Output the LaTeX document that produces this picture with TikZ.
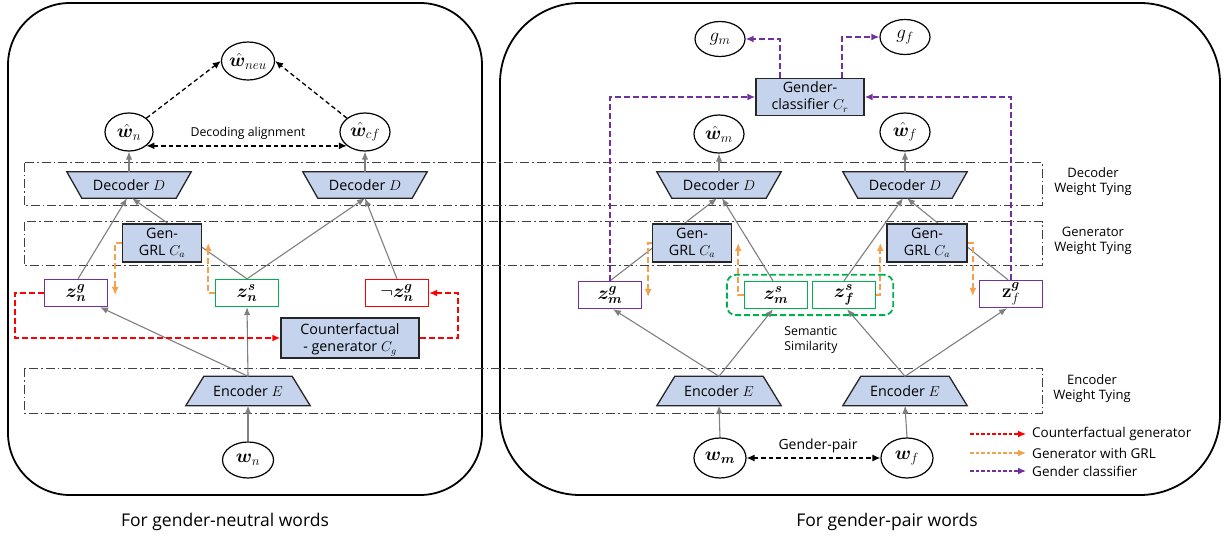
\RequirePackage{fix-cm}
\documentclass[tikz,border=0pt]{standalone}
\usepackage{amsmath}
\usepackage{bm}
\usepackage[no-math]{fontspec}
\setmainfont{Open Sans}
\usetikzlibrary{arrows.meta,shapes.geometric,fit}
\pgfdeclarelayer{background}
\pgfdeclarelayer{conn}
\pgfsetlayers{background,conn,main}
\definecolor{boxblue}{HTML}{C5D3EC}
\definecolor{arrgray}{HTML}{7F7F7F}
\definecolor{cpurple}{HTML}{7030A0}
\definecolor{corange}{HTML}{F4A04C}
\definecolor{cred}{HTML}{FF0000}
\definecolor{cgreen}{HTML}{00B050}
\definecolor{tieframe}{HTML}{404040}
\newcommand\nodefont{\fontsize{14.3}{17}\selectfont}
\newcommand\labfont{\fontsize{12.3}{15}\selectfont}
\newcommand\tiefont{\fontsize{13}{15}\selectfont}
\newcommand\legfont{\fontsize{13.5}{15}\selectfont}
\newcommand\capfont{\fontsize{17.5}{20}\selectfont}
\newcommand\mathfont{\fontsize{19}{21}\selectfont}
\tikzset{
  panel/.style={draw=black, line width=1.8pt},
  tiebox/.style={draw=tieframe, line width=1pt, dash pattern=on 9pt off 3pt on 1.5pt off 3pt},
  bluebox/.style={draw=black!85, line width=1.4pt, fill=boxblue, align=center, font=\nodefont, inner sep=0pt},
  trapnode/.style={inner sep=0pt, font=\nodefont},
  trapfill/.style={draw=black!85, line width=1.3pt, fill=boxblue},
  zbox/.style={draw, line width=1.3pt, fill=white, minimum width=63pt, minimum height=27pt, inner sep=0pt, font=\mathfont},
  wnode/.style={ellipse, draw=black, line width=1.2pt, fill=white, minimum width=50pt, minimum height=38pt, inner sep=0pt, font=\mathfont},
  garrow/.style={draw=arrgray, line width=1.1pt, -{Latex[length=8pt,width=6.5pt]}},
  blkdash/.style={draw=black, line width=1.3pt, dash pattern=on 4.5pt off 3pt},
  redarrow/.style={draw=cred, line width=1.8pt, dash pattern=on 6pt off 3pt, -{Latex[length=8pt,width=7pt]}},
  orarrow/.style={draw=corange, line width=1.8pt, dash pattern=on 6pt off 3pt, -{Latex[length=8pt,width=7pt]}},
  purarrow/.style={draw=cpurple, line width=1.8pt, dash pattern=on 6pt off 3pt, -{Latex[length=8pt,width=7pt]}},
  lab/.style={font=\labfont, align=center, inner sep=0pt},
}
\begin{document}
\begin{tikzpicture}[x=1pt,y=-1pt]
\useasboundingbox (0,0) rectangle (1227,540);
% ---------- panels and weight-tying frames ----------
\begin{pgfonlayer}{background}
\draw[panel, rounded corners=62pt] (8,3) rectangle (482,495);
\draw[panel, rounded corners=80pt] (500,3) rectangle (1220,495);
\draw[tiebox] (24,163) rectangle (1042,206);
\draw[tiebox] (24,222) rectangle (1042,266);
\draw[tiebox] (24,368) rectangle (1042,413);
\end{pgfonlayer}
\node[lab, font=\tiefont] (tdec) at (1093,182) {Decoder\\Weight Tying};
\node[lab, font=\tiefont] (tgen) at (1093,241) {Generator\\Weight Tying};
\node[lab, font=\tiefont] (tenc) at (1092,389) {Encoder\\Weight Tying};
% ---------- left panel ----------
\node[wnode] (wneu) at (248,61) {$\hat{\bm w}_{neu}$};
\node[wnode, minimum width=48pt] (whn) at (129,132) {$\hat{\bm w}_n$};
\node[wnode] (whcf) at (365,132) {$\hat{\bm w}_{cf}$};
\node[lab] (dalign) at (248,133) {Decoding alignment};
\node[trapnode, minimum width=94pt, minimum height=26pt] (decL) at (129,185) {Decoder $D$};
\node[trapnode, minimum width=94pt, minimum height=26pt] (decR) at (365,185) {Decoder $D$};
\node[bluebox, minimum width=79pt, minimum height=38pt] (grlL) at (162,243) {Gen-\\GRL $C_a$};
\node[zbox, draw=cpurple] (zng) at (76,293) {$\boldsymbol{z_n^g}$};
\node[zbox, draw=cgreen] (zns) at (247,293) {$\boldsymbol{z_n^s}$};
\node[zbox, draw=cred] (nzng) at (397,293) {$\neg\boldsymbol{z_n^g}$};
\node[bluebox, minimum width=138pt, minimum height=40pt, text depth=0pt] (cg) at (350,338) {Counterfactual\\- generator $C_g$};
\node[trapnode, minimum width=88pt, minimum height=29pt] (encL) at (248,391) {Encoder $E$};
\node[wnode, minimum width=51pt, minimum height=36pt] (wn) at (248,460) {$\bm w_n$};
% ---------- right panel ----------
\node[wnode, minimum height=35pt] (gm) at (720,39) {$g_m$};
\node[wnode, minimum height=35pt] (gf) at (905,37) {$g_f$};
\node[bluebox, minimum width=108pt, minimum height=37pt] (cr) at (810,97) {Gender-\\classifier $C_r$};
\node[wnode] (whm) at (719,134) {$\hat{\bm w}_m$};
\node[wnode] (whf) at (905,132) {$\hat{\bm w}_f$};
\node[trapnode, minimum width=94pt, minimum height=26pt] (decM) at (719,185) {Decoder $D$};
\node[trapnode, minimum width=94pt, minimum height=26pt] (decF) at (905,185) {Decoder $D$};
\node[bluebox, minimum width=79pt, minimum height=38pt] (grlM) at (692,243) {Gen-\\GRL $C_a$};
\node[bluebox, minimum width=80pt, minimum height=38pt] (grlF) at (927,243) {Gen-\\GRL $C_a$};
\node[zbox, draw=cpurple] (zmg) at (610,295) {$\boldsymbol{z_m^g}$};
\node[zbox, draw=cgreen] (zms) at (776,295) {$\boldsymbol{z_m^s}$};
\node[zbox, draw=cgreen] (zfs) at (844,295) {$\boldsymbol{z_f^s}$};
\node[zbox, draw=cpurple] (zfg) at (1011,294) {$\mathbf{z}_f^{\bm g}$};
\node[fit=(zms)(zfs), inner xsep=17pt, inner ysep=6pt, draw=cgreen, line width=1.8pt, dash pattern=on 6pt off 3pt, rounded corners=9pt] (sem) {};
\node[lab, align=left] (semlab) at (811,340) {Semantic\\Similarity};
\node[trapnode, minimum width=88pt, minimum height=29pt] (encM) at (719,391) {Encoder $E$};
\node[trapnode, minimum width=88pt, minimum height=29pt] (encF) at (905,391) {Encoder $E$};
\node[wnode, minimum width=52pt, minimum height=40pt] (wm) at (720,458) {$\bm{w_m}$};
\node[wnode, minimum width=52pt, minimum height=40pt] (wf) at (907,458) {$\bm w_f$};
\node[lab, font=\fontsize{14}{16}\selectfont] (gpair) at (818,446) {Gender-pair};
% ---------- trapezoids ----------
\begin{pgfonlayer}{background}
\foreach \n in {decL,decR,decM,decF}
  \draw[trapfill] ([xshift=-15pt]\n.north west) -- ([xshift=15pt]\n.north east) -- (\n.south east) -- (\n.south west) -- cycle;
\foreach \n in {encL,encM,encF}
  \draw[trapfill] (\n.north west) -- (\n.north east) -- ([xshift=18pt]\n.south east) -- ([xshift=-18pt]\n.south west) -- cycle;
\end{pgfonlayer}
% ---------- connectors ----------
\begin{pgfonlayer}{conn}
% left
\draw[blkdash, -{Latex[length=8pt,width=7pt]}] (whn.north east) -- (wneu.west);
\draw[blkdash, -{Latex[length=8pt,width=7pt]}] (whcf.north west) -- (wneu.east);
\draw[blkdash, {Latex[length=8pt,width=7pt]}-{Latex[length=8pt,width=7pt]}] (whn.south east) -- (whcf.south west);
\draw[garrow] (decL.north) -- (whn.south);
\draw[garrow] (decR.north) -- (whcf.south);
\draw[garrow] (wn.north) -- (encL.south);
\draw[garrow] (encL.north) -- (zns.south);
\draw[garrow] (encL.north) -- ([xshift=24pt]zng.south);
\draw[garrow] ([xshift=2pt]zng.north) -- ([xshift=-2pt]decL.south);
\draw[garrow] (zns.north) -- ([xshift=3pt]decL.south);
\draw[garrow] (zns.north) -- (decR.south);
\draw[garrow] (nzng.north) -- (decR.south);
\draw[orarrow] (grlL.west) -| ([xshift=7pt,yshift=-2pt]zng.east);
\draw[orarrow] (zns.west) -| ([xshift=6pt]grlL.east);
\draw[redarrow] (zng.west) -- ++(-29,0) |- (cg.west);
\draw[redarrow] (cg.east) -- ++(38,0) |- (nzng.east);
% right
\draw[garrow] (wm.north) -- (encM.south);
\draw[garrow] (wf.north) -- (encF.south);
\draw[garrow] (encM.north) -- ([xshift=3pt]zmg.south);
\draw[garrow] (encM.north) -- ([xshift=-3pt]zms.south);
\draw[garrow] (encF.north) -- ([xshift=3pt]zfs.south);
\draw[garrow] (encF.north) -- ([xshift=-4pt]zfg.south);
\draw[garrow] (zmg.north) -- ([xshift=-2pt]decM.south);
\draw[garrow] ([xshift=-3pt]zms.north) -- ([xshift=3pt]decM.south);
\draw[garrow] (zfs.north) -- ([xshift=-2pt]decF.south);
\draw[garrow] ([xshift=-3pt]zfg.north) -- ([xshift=2pt]decF.south);
\draw[garrow] (decM.north) -- (whm.south);
\draw[garrow] (decF.north) -- (whf.south);
\draw[purarrow] ([xshift=-30pt]cr.north) |- (gm.east);
\draw[purarrow] ([xshift=32pt]cr.north) |- (gf.west);
\draw[purarrow] (zmg.north) |- (cr.west);
\draw[purarrow] (zfg.north) |- (cr.east);
\draw[orarrow] (grlM.west) -| ([xshift=6pt,yshift=-2pt]zmg.east);
\draw[orarrow] (zms.west) -| ([xshift=6pt]grlM.east);
\draw[orarrow] (zfs.east) -| ([xshift=-6pt]grlF.west);
\draw[orarrow] (grlF.east) -| ([xshift=-6pt,yshift=-2pt]zfg.west);
\draw[blkdash, {Latex[length=8pt,width=7pt]}-{Latex[length=8pt,width=7pt]}] (wm.east) -- (wf.west);
\end{pgfonlayer}
% ---------- legend ----------
\coordinate (l1a) at (970,434); \coordinate (l1b) at (1026,434);
\coordinate (l2a) at (970,453); \coordinate (l2b) at (1026,453);
\coordinate (l3a) at (970,471); \coordinate (l3b) at (1026,471);
\draw[redarrow, line width=1.2pt, dash pattern=on 3.5pt off 2pt] (l1a) -- (l1b);
\draw[orarrow, line width=1.2pt, dash pattern=on 3.5pt off 2pt] (l2a) -- (l2b);
\draw[purarrow, line width=1.2pt, dash pattern=on 3.5pt off 2pt] (l3a) -- (l3b);
\node[lab, font=\legfont, anchor=west] (lt1) at (1032,434) {Counterfactual generator};
\node[lab, font=\legfont, anchor=west] (lt2) at (1032,453) {Generator with GRL};
\node[lab, font=\legfont, anchor=west] (lt3) at (1032,471) {Gender classifier};
% ---------- captions ----------
\node[font=\capfont, inner sep=0pt] (cap1) at (225,522) {For gender-neutral words};
\node[font=\capfont, inner sep=0pt] (cap2) at (887,522) {For gender-pair words};
\end{tikzpicture}
\end{document}
